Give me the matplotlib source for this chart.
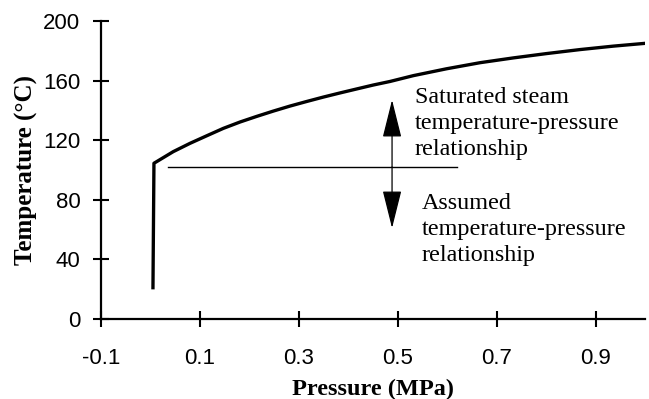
import matplotlib
matplotlib.use("Agg")
import matplotlib.pyplot as plt

# Data
pressure = [0.005, 0.007, 0.046, 0.080, 0.114, 0.147, 0.181, 0.215, 0.248, 0.282,
            0.316, 0.349, 0.383, 0.417, 0.450, 0.484, 0.531, 0.598, 0.666,
            0.733, 0.800, 0.868, 0.935, 1.0]
temperature = [21, 104.5, 112.3, 117.9, 123.0, 127.9, 132.2, 136.0, 139.5, 142.9,
               146.0, 148.9, 151.7, 154.4, 157.0, 159.4, 163.3, 167.9, 172.0,
               175.2, 178.1, 180.8, 183.1, 185]

assumed_x = [0.035, 0.62]
assumed_y = [102, 102]

arrow_x = 0.488
arrow_base = 102
arrow_up_tip = 147
arrow_down_tip = 61

xticks = [-0.1, 0.1, 0.3, 0.5, 0.7, 0.9]
xticklabels = ["-0.1", "0.1", "0.3", "0.5", "0.7", "0.9"]
yticks = [0, 40, 80, 120, 160, 200]

upper_text = "Saturated steam\ntemperature-pressure\nrelationship"
lower_text = "Assumed\ntemperature-pressure\nrelationship"

fig = plt.figure(figsize=(6.49, 3.99), dpi=100)
ax = fig.add_axes([0.1556, 0.2005, 0.839, 0.747])

ax.plot(pressure, temperature, color="black", lw=2.4, solid_joinstyle="round")
ax.plot(assumed_x, assumed_y, color="black", lw=1.0)

# arrows
for tip in (arrow_up_tip, arrow_down_tip):
    ax.annotate("", xy=(arrow_x, tip), xytext=(arrow_x, arrow_base),
                arrowprops=dict(arrowstyle="-|>,head_length=2.4,head_width=0.6",
                                mutation_scale=10, lw=0.9, color="black",
                                shrinkA=0, shrinkB=0))

serif = ["Liberation Serif", "DejaVu Serif"]
ax.text(0.534, 131, upper_text, family=serif, fontsize=17.4, va="center", ha="left",
        linespacing=1.32)
ax.text(0.548, 60, lower_text, family=serif, fontsize=17.4, va="center", ha="left",
        linespacing=1.32)

ax.set_xlim(-0.1, 1.0)
ax.set_ylim(0, 200)
ax.set_xticks(xticks)
ax.set_xticklabels(xticklabels)
ax.set_yticks(yticks)

for s in ["top", "right"]:
    ax.spines[s].set_visible(False)
for s in ["left", "bottom"]:
    ax.spines[s].set_linewidth(1.6)

sans = ["Liberation Sans", "DejaVu Sans"]
ax.tick_params(direction="inout", length=11.5, width=1.5, labelsize=16)
ax.tick_params(axis="x", pad=15)
ax.tick_params(axis="y", pad=9)
for lab in ax.get_xticklabels() + ax.get_yticklabels():
    lab.set_family(sans)

ax.set_xlabel("Pressure (MPa)", family=serif, fontweight="bold", fontsize=17.5, labelpad=7)
ax.set_ylabel("Temperature (°C)", family=serif, fontweight="bold", fontsize=18, labelpad=4)

fig.savefig("out.png", dpi=100)
